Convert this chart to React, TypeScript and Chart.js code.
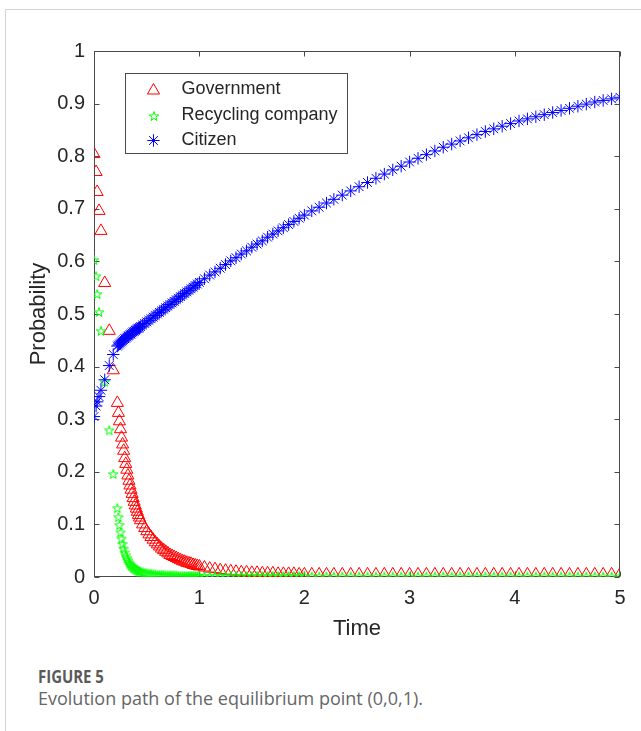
import React, { useEffect, useRef } from "react";
import { Chart, registerables } from "chart.js";

Chart.register(...registerables);

// Shared time grid of the simulation output
const timeValues = [
  0, 0.02, 0.03, 0.048, 0.066, 0.102, 0.145, 0.183, 0.222,
  0.232, 0.242, 0.252, 0.262, 0.272, 0.282, 0.292, 0.302, 0.312, 0.322, 0.332,
  0.342, 0.352, 0.362, 0.372, 0.382, 0.392, 0.402, 0.412, 0.422, 0.432, 0.442,
  0.462, 0.482, 0.502, 0.522, 0.542, 0.562, 0.582, 0.602, 0.622, 0.642, 0.662,
  0.682, 0.702, 0.722, 0.742, 0.762, 0.782, 0.802, 0.822, 0.842, 0.862, 0.882,
  0.902, 0.922, 0.942, 0.962, 0.982, 1.002,
  1.05, 1.1, 1.15, 1.2, 1.25, 1.3, 1.35, 1.4, 1.45, 1.5, 1.55, 1.6, 1.65, 1.7,
  1.75, 1.8, 1.85, 1.9, 1.95, 2.0,
  2.07, 2.14, 2.21, 2.28, 2.36, 2.44, 2.52, 2.6, 2.68, 2.76, 2.84, 2.92, 3.0,
  3.08, 3.16, 3.24, 3.32, 3.4, 3.48, 3.56, 3.64, 3.72, 3.8, 3.88, 3.96, 4.04,
  4.12, 4.2, 4.28, 4.36, 4.44, 4.52, 4.6, 4.68, 4.76, 4.84, 4.92, 5.0,
];

const government = [
  0.804, 0.77, 0.732, 0.696, 0.658, 0.559, 0.468, 0.393, 0.331,
  0.312, 0.296, 0.281, 0.265, 0.252, 0.24, 0.226, 0.215, 0.204, 0.193, 0.183,
  0.174, 0.166, 0.158, 0.15, 0.143, 0.136, 0.13, 0.124, 0.118, 0.113, 0.108,
  0.1, 0.093, 0.087, 0.081, 0.076, 0.071, 0.066, 0.062, 0.058, 0.054, 0.051,
  0.048, 0.045, 0.042, 0.04, 0.038, 0.036, 0.034, 0.032, 0.03, 0.029, 0.027,
  0.026, 0.025, 0.023, 0.022, 0.021, 0.02,
  0.018, 0.016, 0.015, 0.013, 0.012, 0.011, 0.01, 0.009, 0.009, 0.008, 0.008,
  0.007, 0.007, 0.007, 0.006, 0.006, 0.006, 0.006, 0.005, 0.005,
  0.005, 0.005, 0.005, 0.005, 0.005, 0.005, 0.005, 0.005, 0.005, 0.005, 0.005,
  0.005, 0.005, 0.005, 0.005, 0.005, 0.005, 0.005, 0.005, 0.005, 0.005, 0.005,
  0.005, 0.005, 0.005, 0.005, 0.005, 0.005, 0.005, 0.005, 0.005, 0.005, 0.005,
  0.005, 0.005, 0.005, 0.005, 0.005,
];

const recyclingCompany = [
  0.603, 0.572, 0.538, 0.504, 0.468, 0.371, 0.279, 0.196, 0.131,
  0.114, 0.099, 0.085, 0.073, 0.063, 0.054, 0.047, 0.041, 0.036, 0.032, 0.028,
  0.025, 0.022, 0.02, 0.018, 0.017, 0.015, 0.014, 0.013, 0.012, 0.011, 0.01,
  0.009, 0.008, 0.007, 0.006, 0.006, 0.005, 0.005, 0.004, 0.004, 0.004, 0.004,
  0.003, 0.003, 0.003, 0.003, 0.003, 0.003, 0.002, 0.002, 0.002, 0.002, 0.002,
  0.002, 0.002, 0.002, 0.002, 0.002, 0.002,
  0.002, 0.002, 0.002, 0.002, 0.002, 0.002, 0.002, 0.002, 0.002, 0.002, 0.002,
  0.002, 0.002, 0.002, 0.002, 0.002, 0.002, 0.002, 0.002, 0.002,
  0.001, 0.001, 0.001, 0.001, 0.001, 0.001, 0.001, 0.001, 0.001, 0.001, 0.001,
  0.001, 0.001, 0.001, 0.001, 0.001, 0.001, 0.001, 0.001, 0.001, 0.001, 0.001,
  0.001, 0.001, 0.001, 0.001, 0.001, 0.001, 0.001, 0.001, 0.001, 0.001, 0.001,
  0.001, 0.001, 0.001, 0.001, 0.001,
];

const citizen = [
  0.305, 0.325, 0.333, 0.343, 0.355, 0.375, 0.402, 0.423, 0.439,
  0.441, 0.443, 0.445, 0.447, 0.449, 0.451, 0.453, 0.454, 0.456, 0.458, 0.459,
  0.461, 0.462, 0.464, 0.466, 0.467, 0.469, 0.47, 0.472, 0.473, 0.474, 0.476,
  0.479, 0.482, 0.485, 0.488, 0.491, 0.494, 0.497, 0.5, 0.503, 0.506, 0.509,
  0.512, 0.515, 0.518, 0.521, 0.524, 0.527, 0.53, 0.533, 0.536, 0.539, 0.542,
  0.545, 0.548, 0.551, 0.554, 0.557, 0.56,
  0.567, 0.574, 0.58, 0.587, 0.594, 0.601, 0.607, 0.614, 0.62, 0.627, 0.633,
  0.639, 0.646, 0.652, 0.658, 0.664, 0.67, 0.676, 0.682, 0.688,
  0.696, 0.703, 0.711, 0.718, 0.726, 0.734, 0.742, 0.75, 0.758, 0.766, 0.774,
  0.781, 0.789, 0.796, 0.803, 0.81, 0.817, 0.823, 0.829, 0.835, 0.841, 0.847,
  0.852, 0.857, 0.862, 0.867, 0.871, 0.875, 0.879, 0.883, 0.887, 0.891, 0.895,
  0.899, 0.903, 0.906, 0.909, 0.912,
];

const seriesNames = ["Government", "Recycling company", "Citizen"];
const seriesColors = ["#ff0000", "#00ff00", "#0000ff"];

const xTickValues = [0, 1, 2, 3, 4, 5];
const xTickLabels = ["0", "1", "2", "3", "4", "5"];
const yTickValues = [0, 0.1, 0.2, 0.3, 0.4, 0.5, 0.6, 0.7, 0.8, 0.9, 1];
const yTickLabels = ["0", "0.1", "0.2", "0.3", "0.4", "0.5", "0.6", "0.7", "0.8", "0.9", "1"];

const AXIS_COLOR = "#262626";
const FRAME_COLOR = "#4a4a4a";
const AXIS_FONT = "'Liberation Sans', Arial, Helvetica, sans-serif";
const TRIANGLE_RADIUS = 7;
const ASTERISK_RADIUS = 6.2;
const PENTAGRAM_RADIUS = 5;

// Outline five-pointed star used as an image point style
function makePentagram(color: string, outer: number): HTMLCanvasElement {
  const size = Math.ceil(outer * 2) + 4;
  const c = document.createElement("canvas");
  c.width = size;
  c.height = size;
  const ctx = c.getContext("2d")!;
  const cx = size / 2;
  const cy = size / 2 + 0.5;
  const inner = outer * 0.382;
  ctx.beginPath();
  for (let k = 0; k < 10; k++) {
    const r = k % 2 === 0 ? outer : inner;
    const a = -Math.PI / 2 + (k * Math.PI) / 5;
    const px = cx + r * Math.cos(a);
    const py = cy + r * Math.sin(a);
    if (k === 0) ctx.moveTo(px, py);
    else ctx.lineTo(px, py);
  }
  ctx.closePath();
  ctx.strokeStyle = color;
  ctx.lineWidth = 1;
  ctx.stroke();
  return c;
}

function drawTriangle(ctx: CanvasRenderingContext2D, x: number, y: number, r: number) {
  ctx.beginPath();
  for (let k = 0; k < 3; k++) {
    const a = (k * 2 * Math.PI) / 3;
    const px = x + Math.sin(a) * r;
    const py = y - Math.cos(a) * r;
    if (k === 0) ctx.moveTo(px, py);
    else ctx.lineTo(px, py);
  }
  ctx.closePath();
  ctx.stroke();
}

function drawAsterisk(ctx: CanvasRenderingContext2D, x: number, y: number, r: number) {
  const d = Math.cos(Math.PI / 4) * r;
  ctx.beginPath();
  ctx.moveTo(x, y - r);
  ctx.lineTo(x, y + r);
  ctx.moveTo(x - r, y);
  ctx.lineTo(x + r, y);
  ctx.moveTo(x - d, y - d);
  ctx.lineTo(x + d, y + d);
  ctx.moveTo(x + d, y - d);
  ctx.lineTo(x - d, y + d);
  ctx.stroke();
}

// Box around the plot area with inward ticks on all four sides
const framePlugin = {
  id: "matlabFrame",
  beforeDatasetsDraw(chart: any) {
    const { ctx, chartArea, scales } = chart;
    const L = Math.round(chartArea.left) + 0.5;
    const R = Math.round(chartArea.right) - 0.5;
    const T = Math.round(chartArea.top) + 0.5;
    const B = Math.round(chartArea.bottom) - 0.5;
    const tick = 5;
    ctx.save();
    ctx.strokeStyle = FRAME_COLOR;
    ctx.lineWidth = 1;
    ctx.strokeRect(L, T, R - L, B - T);
    ctx.beginPath();
    xTickValues.forEach((v) => {
      const px = Math.round(scales.x.getPixelForValue(v)) + 0.5;
      ctx.moveTo(px, B);
      ctx.lineTo(px, B - tick);
      ctx.moveTo(px, T);
      ctx.lineTo(px, T + tick);
    });
    yTickValues.forEach((v) => {
      const py = Math.round(scales.y.getPixelForValue(v)) + 0.5;
      ctx.moveTo(L, py);
      ctx.lineTo(L + tick, py);
      ctx.moveTo(R, py);
      ctx.lineTo(R - tick, py);
    });
    ctx.stroke();
    ctx.restore();
  },
};

// Legend box in the upper left of the plot area
const legendPlugin = {
  id: "insideLegend",
  afterDatasetsDraw(chart: any) {
    const { ctx, chartArea } = chart;
    const bx = Math.round(chartArea.left) + 31.5;
    const by = Math.round(chartArea.top) + 22.5;
    const bw = 222;
    const bh = 80;
    ctx.save();
    ctx.fillStyle = "#ffffff";
    ctx.fillRect(bx, by, bw, bh);
    ctx.strokeStyle = FRAME_COLOR;
    ctx.lineWidth = 1;
    ctx.strokeRect(bx, by, bw, bh);
    const rows = [16, 42, 67];
    const mx = bx + 28;
    seriesNames.forEach((name, i) => {
      const my = by + rows[i];
      ctx.strokeStyle = seriesColors[i];
      ctx.lineWidth = 1;
      if (i === 0) drawTriangle(ctx, mx, my + 1, TRIANGLE_RADIUS);
      else if (i === 1) {
        const img = chart.data.datasets[1].pointStyle as HTMLCanvasElement;
        ctx.drawImage(img, Math.round(mx - img.width / 2), Math.round(my - img.height / 2));
      } else drawAsterisk(ctx, mx, my, ASTERISK_RADIUS);
      ctx.fillStyle = AXIS_COLOR;
      ctx.font = `18px ${AXIS_FONT}`;
      ctx.textBaseline = "middle";
      ctx.textAlign = "left";
      ctx.fillText(name, bx + 56, my);
    });
    ctx.restore();
  },
};

function toPoints(values: number[]) {
  return timeValues.map((t, i) => ({ x: t, y: values[i] }));
}

function EvolutionChart() {
  const canvasRef = useRef<HTMLCanvasElement | null>(null);

  useEffect(() => {
    const canvas = canvasRef.current;
    if (!canvas) return;
    const pentagram = makePentagram(seriesColors[1], PENTAGRAM_RADIUS);

    const chart = new Chart(canvas, {
      type: "scatter",
      data: {
        datasets: [
          {
            label: seriesNames[0],
            data: toPoints(government),
            pointStyle: "triangle",
            pointRadius: TRIANGLE_RADIUS,
            borderColor: seriesColors[0],
            backgroundColor: "rgba(0,0,0,0)",
            pointBorderWidth: 1,
            order: 3,
          },
          {
            label: seriesNames[1],
            data: toPoints(recyclingCompany),
            pointStyle: pentagram as any,
            pointRadius: PENTAGRAM_RADIUS,
            borderColor: seriesColors[1],
            backgroundColor: "rgba(0,0,0,0)",
            order: 2,
          },
          {
            label: seriesNames[2],
            data: toPoints(citizen),
            pointStyle: "star",
            pointRadius: ASTERISK_RADIUS,
            borderColor: seriesColors[2],
            backgroundColor: "rgba(0,0,0,0)",
            pointBorderWidth: 1,
            order: 1,
          },
        ],
      },
      options: {
        animation: false,
        responsive: false,
        devicePixelRatio: 1,
        events: [],
        layout: { padding: { left: 10, right: 21, top: 51, bottom: 13 } },
        plugins: {
          legend: { display: false },
          tooltip: { enabled: false },
        },
        scales: {
          x: {
            type: "linear",
            min: 0,
            max: 5,
            grid: { display: false, drawTicks: false },
            border: { display: false },
            afterBuildTicks: (scale: any) => {
              scale.ticks = xTickValues.map((v) => ({ value: v }));
            },
            afterFit: (scale: any) => {
              scale.height = 70;
            },
            ticks: {
              padding: 9,
              color: AXIS_COLOR,
              font: { family: AXIS_FONT, size: 20 },
              maxRotation: 0,
              callback: (v: any) => xTickLabels[xTickValues.indexOf(Number(v))] ?? "",
            },
            title: {
              display: true,
              text: "Time",
              color: AXIS_COLOR,
              font: { family: AXIS_FONT, size: 22 },
              padding: { top: 0, bottom: 5 },
            },
          },
          y: {
            type: "linear",
            min: 0,
            max: 1,
            grid: { display: false, drawTicks: false },
            border: { display: false },
            afterBuildTicks: (scale: any) => {
              scale.ticks = yTickValues.map((v) => ({ value: v }));
            },
            afterFit: (scale: any) => {
              scale.width = 84;
            },
            ticks: {
              padding: 9,
              color: AXIS_COLOR,
              font: { family: AXIS_FONT, size: 20 },
              callback: (v: any) => {
                const idx = yTickValues.findIndex((t) => Math.abs(t - Number(v)) < 1e-9);
                return idx >= 0 ? yTickLabels[idx] : "";
              },
            },
            title: {
              display: true,
              text: "Probability",
              color: AXIS_COLOR,
              font: { family: AXIS_FONT, size: 22 },
              padding: { top: 16, bottom: 0 },
            },
          },
        },
      },
      plugins: [framePlugin, legendPlugin],
    });

    return () => chart.destroy();
  }, []);

  return (
    <canvas
      ref={canvasRef}
      width={641}
      height={660}
      style={{ position: "absolute", left: 0, top: 0, width: 641, height: 660 }}
    />
  );
}

export default function App() {
  return (
    <div
      style={{
        position: "absolute",
        left: 0,
        top: 0,
        width: 641,
        height: 731,
        overflow: "hidden",
        background: "#ffffff",
      }}
    >
      <div
        style={{
          position: "absolute",
          left: 5,
          top: 9,
          right: 0,
          bottom: 0,
          borderLeft: "1px solid #d4d4d4",
          borderTop: "1px solid #d4d4d4",
        }}
      />
      <EvolutionChart />
      <div
        style={{
          position: "absolute",
          left: 38,
          top: 666,
          fontFamily: "'Open Sans', sans-serif",
          fontWeight: 700,
          fontSize: 18,
          lineHeight: "20px",
          color: "#5a5a5a",
          whiteSpace: "nowrap",
          transform: "scaleX(0.83)",
          transformOrigin: "left top",
        }}
      >
        FIGURE 5
      </div>
      <div
        style={{
          position: "absolute",
          left: 38,
          top: 686,
          fontFamily: "'Open Sans', sans-serif",
          fontSize: 18,
          lineHeight: "24px",
          color: "#666666",
          whiteSpace: "nowrap",
        }}
      >
        Evolution path of the equilibrium point (0,0,1).
      </div>
    </div>
  );
}
